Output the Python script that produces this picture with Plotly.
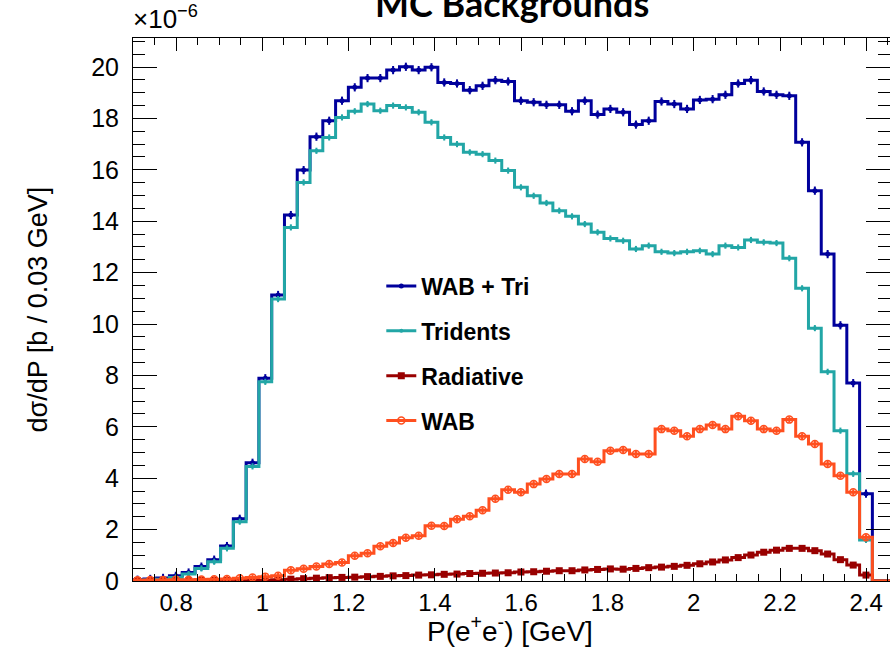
import plotly.graph_objects as go

# ---- data (units of 1e-6 b / bin) ----
first_edge = 0.6956      # GeV, left edge of first bin
bin_width = 0.02963      # GeV

wab_tri = [0.05, 0.08, 0.12, 0.20, 0.33, 0.56, 0.83, 1.36, 2.42, 4.60,
           7.89, 11.13, 14.24, 15.99, 17.29, 17.91, 18.69, 19.21, 19.57, 19.57,
           19.88, 20.01, 19.88, 19.99, 19.40, 19.36, 19.10, 19.27, 19.49, 19.44,
           18.69, 18.63, 18.53, 18.53, 18.28, 18.69, 18.15, 18.37, 18.24, 17.76,
           17.91, 18.66, 18.56, 18.37, 18.72, 18.75, 18.92, 19.36, 19.49, 19.05,
           18.92, 18.88, 17.07, 15.19, 12.72, 9.95, 7.70, 3.40, 0.0]
tridents = [0.02, 0.04, 0.07, 0.14, 0.27, 0.49, 0.75, 1.27, 2.31, 4.46,
            7.75, 10.97, 13.76, 15.51, 16.74, 17.26, 18.04, 18.28, 18.56, 18.30,
            18.50, 18.43, 18.24, 17.85, 17.26, 17.00, 16.68, 16.61, 16.36, 15.97,
            15.32, 14.99, 14.71, 14.41, 14.19, 13.89, 13.57, 13.33, 13.24, 12.92,
            13.05, 12.81, 12.76, 12.81, 12.85, 12.72, 13.05, 12.98, 13.27, 13.18,
            13.15, 12.56, 11.39, 9.84, 8.14, 5.85, 4.17, 1.60, 0.0]
radiative = [0.01, 0.01, 0.01, 0.01, 0.01, 0.02, 0.02, 0.02, 0.02, 0.03,
             0.03, 0.05, 0.07, 0.09, 0.11, 0.13, 0.14, 0.15, 0.17, 0.18,
             0.20, 0.21, 0.23, 0.24, 0.26, 0.27, 0.29, 0.30, 0.31, 0.32,
             0.35, 0.36, 0.38, 0.40, 0.40, 0.43, 0.45, 0.47, 0.46, 0.49,
             0.52, 0.54, 0.57, 0.61, 0.67, 0.74, 0.82, 0.91, 1.01, 1.12,
             1.20, 1.27, 1.27, 1.18, 1.05, 0.83, 0.62, 0.23, 0.0]
wab = [0.03, 0.04, 0.04, 0.05, 0.05, 0.06, 0.07, 0.08, 0.11, 0.14,
       0.17, 0.20, 0.42, 0.48, 0.56, 0.66, 0.72, 0.98, 1.08, 1.35,
       1.48, 1.68, 1.76, 2.15, 2.14, 2.40, 2.52, 2.75, 3.20, 3.55,
       3.45, 3.77, 3.97, 4.16, 4.16, 4.75, 4.64, 5.07, 5.10, 4.94,
       4.94, 5.91, 5.85, 5.63, 5.91, 6.07, 5.91, 6.41, 6.24, 5.91,
       5.85, 6.28, 5.63, 5.33, 4.55, 4.10, 3.45, 1.70, 0.0]

series_names = ["WAB + Tri", "Tridents", "Radiative", "WAB"]
x_ticks = [0.8, 1.0, 1.2, 1.4, 1.6, 1.8, 2.0, 2.2, 2.4]
x_tick_text = ["0.8", "1", "1.2", "1.4", "1.6", "1.8", "2", "2.2", "2.4"]
y_ticks = [0, 2, 4, 6, 8, 10, 12, 14, 16, 18, 20]

# ---- styling ----
colors = ["#00009c", "#22a6a6", "#990000", "#ff4f1f"]
markers = [dict(symbol="circle", size=5),
           dict(symbol="circle", size=4),
           dict(symbol="square", size=7),
           dict(symbol="circle-open", size=7, line=dict(width=1.5))]
errs = [0.16, 0.12, 0.05, 0.12]
all_series = [wab_tri, tridents, radiative, wab]

nb = len(wab)
edges = [first_edge + k * bin_width for k in range(nb + 1)]
centers = [first_edge + (k + 0.5) * bin_width for k in range(nb)]

fig = go.Figure()
for k, (name, vals) in enumerate(zip(series_names, all_series)):
    col = colors[k]
    fig.add_trace(go.Scatter(
        x=edges + [2.6], y=vals + [0.0, 0.0],
        mode="lines", line=dict(color=col, width=3, shape="hv"),
        showlegend=False, hoverinfo="skip"))
    mx = [c for c, v in zip(centers, vals) if v > 0]
    my = [v for v in vals if v > 0]
    m = dict(markers[k])
    m["color"] = col
    fig.add_trace(go.Scatter(
        x=mx, y=my, mode="markers", marker=m,
        error_y=dict(type="constant", value=errs[k], thickness=2, width=0, color=col),
        showlegend=False))
    fig.add_trace(go.Scatter(
        x=[None], y=[None], mode="lines+markers", name=name,
        line=dict(color=col, width=3), marker=m,
        legendgroup=name, showlegend=True))

font = "Liberation Sans, Arial, sans-serif"
fig.update_layout(
    width=890, height=649,
    margin=dict(l=133, r=0, t=38, b=68),
    paper_bgcolor="white", plot_bgcolor="white",
    font=dict(family=font, size=23, color="black"),
    showlegend=True,
    legend=dict(x=0.328, y=0.583, xanchor="left", yanchor="top",
                bgcolor="rgba(0,0,0,0)", traceorder="grouped",
                tracegroupgap=12, itemwidth=30,
                font=dict(family=font, size=23, color="black", weight="bold")),
    xaxis=dict(range=[0.7, 2.455], showgrid=False, zeroline=False,
               showline=True, linecolor="black", linewidth=1, mirror="ticks",
               ticks="inside", ticklen=13, tickcolor="black",
               tickvals=x_ticks, ticktext=x_tick_text,
               tickfont=dict(family=font, size=24),
               minor=dict(ticks="inside", ticklen=7, dtick=0.05, tick0=0.0,
                          tickcolor="black", showgrid=False)),
    yaxis=dict(range=[0, 21.13], showgrid=False, zeroline=False,
               showline=True, linecolor="black", linewidth=1, mirror="ticks",
               ticks="inside", ticklen=24, tickcolor="black",
               tickvals=y_ticks, ticklabelstandoff=8,
               tickfont=dict(family=font, size=25),
               minor=dict(ticks="inside", ticklen=12, dtick=0.5, tick0=0,
                          tickcolor="black", showgrid=False)),
    annotations=[
        dict(text="<b>MC Backgrounds</b>", xref="paper", yref="paper",
             x=0.5, y=1.02, xanchor="center", yanchor="bottom",
             showarrow=False, font=dict(family="Lato, sans-serif", size=36)),
        dict(text="×10<sup>−6</sup>", xref="paper", yref="paper",
             x=-0.003, y=1.003, xanchor="left", yanchor="bottom",
             showarrow=False, font=dict(family=font, size=26)),
        dict(text="dσ/dP [b / 0.03 GeV]", xref="paper", yref="paper",
             x=-0.1255, y=0.5, xanchor="center", yanchor="middle",
             textangle=-90, showarrow=False, font=dict(family=font, size=27)),
        dict(text="P(e<sup>+</sup>e<sup>-</sup>) [GeV]", xref="paper", yref="paper",
             x=0.498, y=-0.089, xanchor="center", yanchor="middle",
             showarrow=False, font=dict(family=font, size=28)),
    ],
)

fig.write_html("out.html")
